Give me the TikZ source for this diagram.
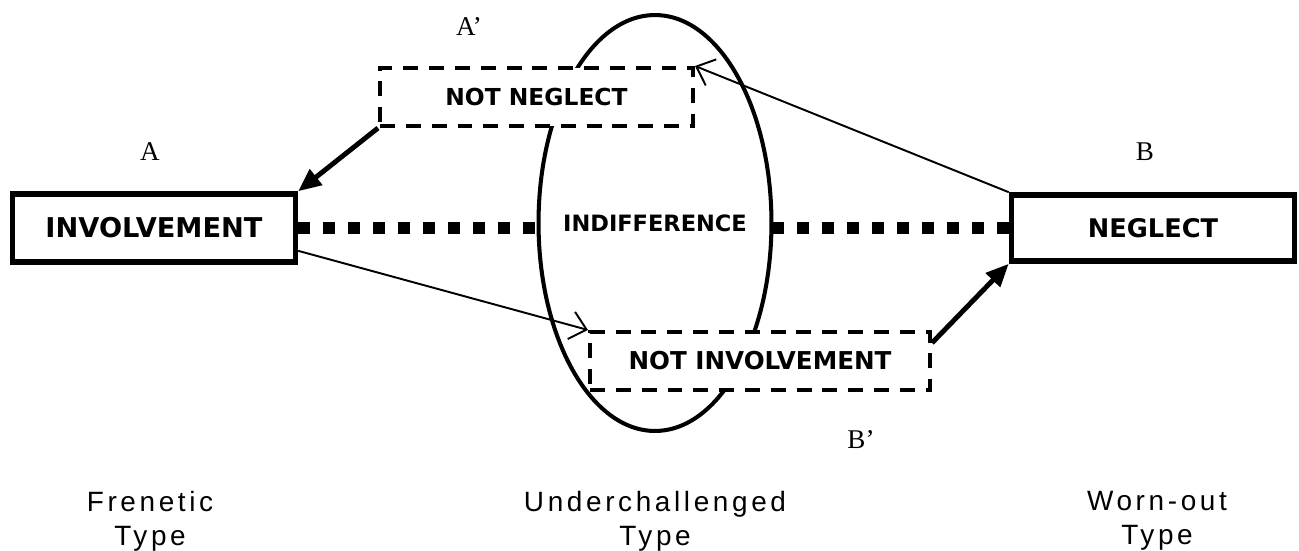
\documentclass[tikz,border=0pt]{standalone}
\usepackage{fontspec}
\setmainfont{Liberation Serif}
\newfontfamily\comic{DejaVu Sans}
\newfontfamily\typefont{Liberation Sans}[LetterSpace=13]
\usetikzlibrary{arrows.meta,shapes.geometric}

\begin{document}
\begin{tikzpicture}[
  x=0.02cm, y=-0.02cm,
  solid box/.style={draw, fill=white, line width=3.2pt, minimum width=5.66cm, minimum height=1.36cm, inner sep=0pt},
  dash box/.style={draw, fill=white, line width=2.3pt, dash pattern=on 8.5pt off 6.2pt, minimum height=1.16cm, inner sep=0pt},
  lbl/.style={font=\comic\bfseries\fontsize{#1}{#1}\selectfont},
  letter/.style={font=\fontsize{15.4}{16}\selectfont, inner sep=0pt},
  kind/.style={font=\typefont\fontsize{15.9}{19.3}\selectfont, align=center, inner sep=0pt},
  bigarr/.style={line width=2.8pt, -{Triangle[length=13pt,width=11pt]}},
  thinarr/.style={line width=1.1pt, -{Straight Barb[length=9pt,width=16pt]}}
]
  \useasboundingbox (0,0) rectangle (1299,551);

  \node[solid box, lbl=15.5]                        (inv)    at (154,228)   {INVOLVEMENT};
  \node[solid box, lbl=14.6, minimum height=1.32cm] (neg)    at (1153,228)  {NEGLECT};

  \draw[line width=6.8pt, dash pattern=on 6.8pt off 7.4pt] (inv) -- (neg);

  \node[ellipse, draw, fill=white, line width=2.3pt, inner sep=0pt, minimum width=4.66cm,
        minimum height=8.32cm, lbl=12.8] (indiff) at (655,223) {\makebox[0pt]{INDIFFERENCE}};

  \node[dash box, lbl=13.3, minimum width=6.26cm] (notneg) at (536.5,97)  {NOT NEGLECT};
  \node[dash box, lbl=14,   minimum width=6.8cm]  (notinv) at (760,361)   {NOT INVOLVEMENT};

  \node[letter] (a)  at (150,152)  {A};
  \node[letter] (a2) at (469,27)   {A’};
  \node[letter] (b)  at (1145,152) {B};
  \node[letter] (b2) at (861,440)  {B’};

  \draw[bigarr] (notneg.south west) -- (inv.north east);
  \draw[bigarr] (notinv.6) -- (neg.south west);
  \draw[thinarr] (inv.-9.5) -- (notinv.north west);
  \draw[thinarr] (neg.north west) -- (notneg.north east);

  \node[kind] (fren)  at (150,521)  {Frenetic\\Type};
  \node[kind] (under) at (655,521)  {Underchallenged\\Type};
  \node[kind] (worn)  at (1157,521) {Worn-out\\Type};
\end{tikzpicture}
\end{document}
